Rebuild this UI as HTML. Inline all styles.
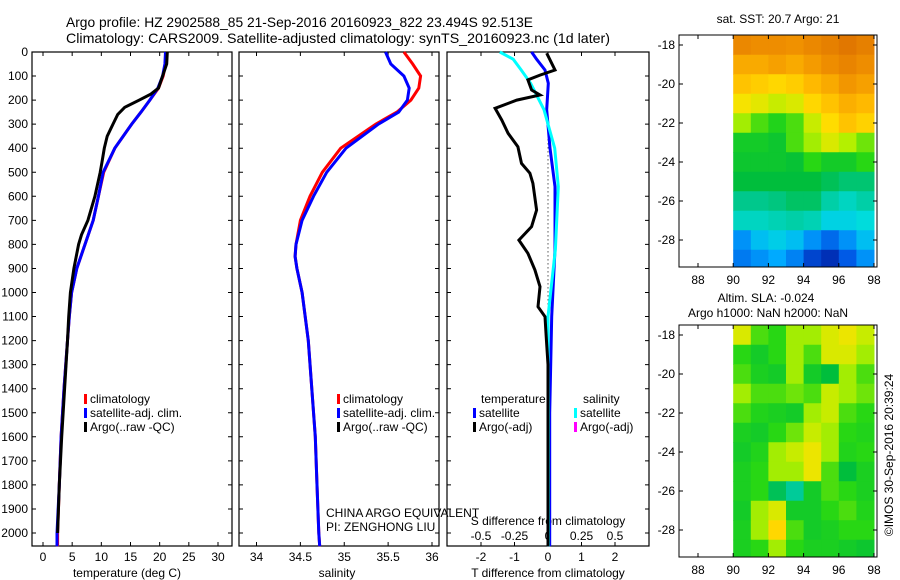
<!DOCTYPE html>
<html><head><meta charset="utf-8"><style>
html,body{margin:0;padding:0;background:#fff;width:900px;height:580px;overflow:hidden}
svg{display:block;font-family:"Liberation Sans",sans-serif}
</style></head><body>
<svg id="chart" width="900" height="580" viewBox="0 0 900 580">
<text x="66" y="27" font-size="14" textLength="467" lengthAdjust="spacingAndGlyphs">Argo profile: HZ 2902588_85 21-Sep-2016 20160923_822 23.494S 92.513E</text>
<text x="66" y="43" font-size="14" textLength="544" lengthAdjust="spacingAndGlyphs">Climatology: CARS2009. Satellite-adjusted climatology: synTS_20160923.nc (1d later)</text>
<text x="778" y="23" font-size="12" text-anchor="middle">sat. SST: 20.7 Argo: 21</text>
<text x="766" y="302" font-size="12" text-anchor="middle">Altim. SLA: -0.024</text>
<text x="768" y="317" font-size="12" text-anchor="middle">Argo h1000: NaN h2000: NaN</text>
<text transform="translate(893,455) rotate(-90)" font-size="12" text-anchor="middle">©IMOS 30-Sep-2016 20:39:24</text>
<text x="326" y="517" font-size="12">CHINA ARGO EQUIVALENT</text>
<text x="326" y="531" font-size="12">PI: ZENGHONG LIU</text>
</svg>
<script>
// ---- data ----
const depthTicks=[0,100,200,300,400,500,600,700,800,900,1000,1100,1200,1300,1400,1500,1600,1700,1800,1900,2000];
const tempTicks=[0,5,10,15,20,25,30];
const salTicks=[34,34.5,35,35.5,36];
const tdiffTicks=[-2,-1,0,1,2];
const sdiffTicks=[-0.5,-0.25,0,0.25,0.5];
const latTicks=[-18,-20,-22,-24,-26,-28];
const lonTicks=[88,90,92,94,96,98];

const argoTDepth=[0,50,100,150,175,200,230,260,300,350,400,460,500,600,700,760,800,900,1000,1100,1200,1400,1600,1800,2000];
const argoTemp=[21.3,21.2,20.5,19.8,18.5,16.5,14.0,12.8,12.0,11.0,10.5,10.1,9.8,8.9,7.7,6.6,6.1,5.3,4.7,4.4,4.2,3.7,3.2,2.8,2.5];
const climDepth=[0,50,100,150,200,250,300,400,500,600,700,800,900,1000,1100,1200,1400,1600,1800,2000,2055];
const climTemp=[21.0,21.0,20.6,19.8,18.3,16.8,15.2,12.3,10.4,9.5,8.6,7.2,5.8,4.9,4.5,4.2,3.6,3.1,2.8,2.5,2.5];
const satTemp=[21.0,20.9,20.5,19.7,18.3,16.8,15.2,12.3,10.3,9.5,8.6,7.2,5.8,4.9,4.5,4.2,3.6,3.1,2.8,2.4,2.4];
const salDepth=[0,50,100,150,200,250,300,400,500,600,700,800,850,900,1000,1200,1400,1600,1800,2000,2055];
const climSal=[35.68,35.78,35.87,35.85,35.76,35.6,35.36,34.96,34.75,34.61,34.5,34.45,34.44,34.46,34.52,34.59,34.63,34.67,34.69,34.71,34.72];
const satSal=[35.47,35.53,35.68,35.74,35.72,35.62,35.39,35.02,34.8,34.65,34.52,34.45,34.44,34.46,34.52,34.59,34.63,34.67,34.69,34.71,34.72];
const tdiffDepth=[5,47,75,96,116,158,179,200,234,283,338,394,463,504,546,657,726,782,837,906,976,1059,1100,1170,1300,1600,2000,2055];
const argoTdiff=[-0.04,0.11,0.21,-0.24,-0.6,-0.49,-0.24,-0.93,-1.58,-1.38,-1.19,-0.9,-0.79,-0.54,-0.45,-0.34,-0.49,-0.87,-0.6,-0.39,-0.24,-0.3,-0.09,-0.06,0,0,0,0];
const satDiffDepth=[0,30,75,130,240,400,560,820,1100,1500,2000,2055];
const satTdiff=[-0.49,-0.34,-0.09,0.01,-0.04,0.06,0.21,0.21,0.11,0.05,0.05,0.05];
const satSdiff=[-0.36,-0.26,-0.2,-0.13,-0.03,0.05,0.077,0.055,0.0,0.003,0.003,0.003];
// map data (colormap index 0..1), rows from north (-17.5) to south, cols 90..98E
const sstGrid=[
[0.82,0.81,0.81,0.8,0.82,0.84,0.86,0.84],
[0.75,0.75,0.77,0.75,0.78,0.81,0.83,0.81],
[0.7,0.68,0.66,0.68,0.72,0.75,0.79,0.77],
[0.63,0.61,0.58,0.6,0.66,0.7,0.74,0.72],
[0.55,0.5,0.47,0.5,0.58,0.65,0.7,0.67],
[0.45,0.45,0.44,0.5,0.55,0.6,0.56,0.52],
[0.44,0.44,0.44,0.43,0.48,0.45,0.45,0.48],
[0.42,0.42,0.42,0.42,0.42,0.4,0.38,0.38],
[0.36,0.36,0.37,0.39,0.39,0.34,0.32,0.34],
[0.32,0.32,0.33,0.34,0.33,0.28,0.28,0.3],
[0.17,0.24,0.27,0.24,0.17,0.12,0.17,0.24],
[0.14,0.17,0.2,0.15,0.07,0.04,0.1,0.17]];
const slaGrid=[
[0.6,0.5,0.48,0.55,0.55,0.6,0.62,0.58],
[0.48,0.45,0.48,0.55,0.5,0.6,0.6,0.55],
[0.5,0.46,0.45,0.55,0.45,0.42,0.55,0.5],
[0.55,0.5,0.5,0.52,0.5,0.58,0.55,0.52],
[0.5,0.47,0.46,0.45,0.55,0.58,0.5,0.48],
[0.46,0.45,0.48,0.52,0.58,0.55,0.48,0.47],
[0.45,0.47,0.55,0.58,0.62,0.55,0.47,0.48],
[0.46,0.48,0.55,0.55,0.62,0.5,0.42,0.46],
[0.46,0.48,0.4,0.35,0.45,0.5,0.48,0.46],
[0.45,0.55,0.6,0.45,0.45,0.48,0.5,0.47],
[0.46,0.55,0.66,0.5,0.45,0.46,0.48,0.48],
[0.46,0.48,0.55,0.48,0.46,0.46,0.45,0.44]];

// ---- helpers ----
const svg=document.getElementById('chart');
const NS='http://www.w3.org/2000/svg';
function mk(tag,attrs,parent){const e=document.createElementNS(NS,tag);for(const k in attrs)e.setAttribute(k,attrs[k]);(parent||svg).appendChild(e);return e;}
const TOP=52,BOT=546;
const yD=d=>TOP+d*0.2405;
function lin(d0,d1,p0,p1){return v=>p0+(v-d0)*(p1-p0)/(d1-d0);}
const xT=lin(0,30,43,218);
const xS=lin(34,36,256.5,432);
const xTd=lin(0,1,548,581.5);
const xSd=v=>xTd(v*4);

function frame(x0,x1,name){
  const r=mk('rect',{x:x0,y:TOP,width:x1-x0,height:BOT-TOP,fill:'none',stroke:'#000','stroke-width':1.2});
  
  
  depthTicks.forEach(d=>{
    const t=mk('path',{d:`M${x0} ${yD(d)}h4M${x1} ${yD(d)}h-4`,stroke:'#000'});
    
    
  });
}
function xticks(ticks,f,y,labelY,name){
  ticks.forEach(v=>{
    const x=f(v);
    const t=mk('path',{d:`M${x} ${BOT}v-4M${x} ${TOP}v4`,stroke:'#000'});
    
    
    const l=mk('text',{x:x,y:labelY,'font-size':12,'text-anchor':'middle'});
    l.textContent=String(v);
    
    
  });
}
function line(xs,ds,fx,color,w,name,extra){
  const pts=xs.map((v,i)=>fx(v).toFixed(1)+','+yD(ds[i]).toFixed(1)).join(' ');
  const p=mk('polyline',Object.assign({points:pts,fill:'none',stroke:color,'stroke-width':w,'stroke-linejoin':'miter'},extra||{}));
  
  
}
function label(x,y,txt,name,anchor){
  const t=mk('text',{x:x,y:y,'font-size':12,'text-anchor':anchor||'start'});
  t.textContent=txt;
  
  
}
function legend(x,y,color,txt){
  const m=mk('rect',{x:x,y:y-9,width:3,height:10,fill:color});
  
  
  label(x+6,y,txt,'legend-entry');
}

// panel 1: temperature
frame(32,232,'temperature-panel');
depthTicks.forEach(d=>label(28,yD(d)+4,String(d),'depth-label','end'));
xticks(tempTicks,xT,BOT,561,'temperature-tick-label');
label(127,577,'temperature (deg C)','temperature-axis-title','middle');
line(climTemp,climDepth,xT,'#f00',3,'temp-climatology-line');
line(satTemp,climDepth,xT,'#00f',3,'temp-satellite-line');
line(argoTemp,argoTDepth,xT,'#000',3,'temp-argo-line');
legend(84,403,'#f00','climatology');
legend(84,417,'#00f','satellite-adj. clim.');
legend(84,431,'#000','Argo(..raw -QC)');

// panel 2: salinity
frame(239,439,'salinity-panel');
xticks(salTicks,xS,BOT,561,'salinity-tick-label');
label(337,577,'salinity','salinity-axis-title','middle');
line(climSal,salDepth,xS,'#f00',3,'sal-climatology-line');
line(satSal,salDepth,xS,'#00f',3,'sal-satellite-line');
legend(337,403,'#f00','climatology');
legend(337,417,'#00f','satellite-adj. clim.');
legend(337,431,'#000','Argo(..raw -QC)');

// panel 3: differences
frame(447,649,'difference-panel');
xticks(tdiffTicks,xTd,BOT,561,'tdiff-tick-label');
sdiffTicks.forEach(v=>label(xSd(v),540,String(v),'sdiff-tick-label','middle'));
label(548,525,'S difference from climatology','sdiff-axis-title','middle');
label(548,577,'T difference from climatology','tdiff-axis-title','middle');
const zl=mk('line',{x1:xTd(0),x2:xTd(0),y1:yD(280),y2:BOT,stroke:'#000','stroke-dasharray':'1,3'});


line(satTdiff,satDiffDepth,xTd,'#00f',3,'tdiff-satellite-line');
line(satSdiff,satDiffDepth,xSd,'#0ff',3,'sdiff-satellite-line');
line(argoTdiff,tdiffDepth,xTd,'#000',3,'tdiff-argo-line');
label(481,403,'temperature','legend-header-temperature');
label(583,403,'salinity','legend-header-salinity');
legend(473,417,'#00f','satellite');
legend(473,431,'#000','Argo(-adj)');
legend(574,417,'#0ff','satellite');
legend(574,431,'#f0f','Argo(-adj)');

// maps
const cmapPos=[0,0.1,0.2,0.3,0.36,0.42,0.48,0.56,0.64,0.72,0.8,0.88,1];
const cmapCol=[[0,20,150],[0,90,230],[0,170,255],[0,220,220],[0,200,140],[0,190,60],[40,215,20],[180,240,0],[255,225,0],[255,185,0],[240,145,0],[220,110,0],[200,80,0]];
function cmap(v){
  for(let i=0;i<cmapPos.length-1;i++){
    if(v<=cmapPos[i+1]){
      const t=Math.max(0,(v-cmapPos[i])/(cmapPos[i+1]-cmapPos[i]));
      const a=cmapCol[i],b=cmapCol[i+1];
      return `rgb(${a.map((c,k)=>Math.round(c+(b[k]-c)*t)).join(',')})`;
    }
  }
  return 'rgb(200,80,0)';
}
function map(y0,y1,grid,name){
  const X0=679,X1=877;
  const xL=lin(88,98,698,874);
  const yL=lin(-18,-28,y0+10,y0+10+195);
  grid.forEach((row,i)=>row.forEach((v,j)=>{
    const x=xL(90+j),w=xL(91+j)-x+0.5;
    const y=yL(-17.5-i),h=yL(-18.5-i)-y+0.5;
    const xe=Math.min(x+w,X1),ye=Math.min(y+h,y1);
    const c=mk('rect',{x:x,y:Math.max(y,y0),width:xe-x,height:ye-Math.max(y,y0),fill:cmap(v)});
    
    
  }));
  const r=mk('rect',{x:X0,y:y0,width:X1-X0,height:y1-y0,fill:'none',stroke:'#000'});
  
  
  latTicks.forEach(v=>{
    const y=yL(v);
    const t=mk('path',{d:`M${X0} ${y}h4M${X1} ${y}h-4`,stroke:'#000'});
    
    
    label(675,y+4,String(v),'lat-label','end');
  });
  lonTicks.forEach(v=>{
    const x=xL(v);
    const t=mk('path',{d:`M${x} ${y1}v-4M${x} ${y0}v4`,stroke:'#000'});
    
    
    label(x,y1+17,String(v),'lon-label','middle');
  });
}
map(35,267,sstGrid,'sst-map');
map(325,557,slaGrid,'sla-map');
</script>
</body></html>
